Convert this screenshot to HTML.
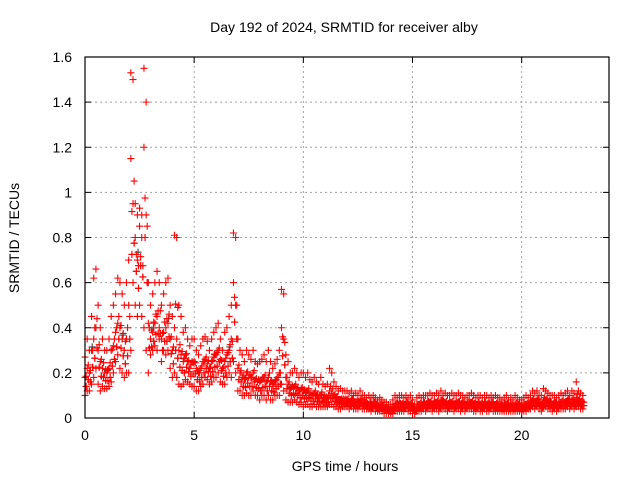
<!DOCTYPE html>
<html><head><meta charset="utf-8"><style>
body{margin:0;background:#fff}
svg{display:block;font-family:"Liberation Sans",sans-serif}
</style></head><body>
<svg id="chart" width="640" height="480">
<text x="344" y="32" text-anchor="middle" font-size="14">Day 192 of 2024, SRMTID for receiver alby</text>
<text x="345" y="471" text-anchor="middle" font-size="14">GPS time / hours</text>
<text transform="translate(19,238) rotate(-90)" text-anchor="middle" font-size="14">SRMTID / TECUs</text>
<g id="grid"></g><g id="ticks"></g><g id="marks"></g>
<rect x="85" y="57" width="524" height="361" fill="none" stroke="#000" stroke-width="1.2"/>
</svg>
<script>
const xTicks=[0,5,10,15,20];
const yTicks=[0,0.2,0.4,0.6,0.8,1,1.2,1.4,1.6];
const yTickLabels=["0","0.2","0.4","0.6","0.8","1","1.2","1.4","1.6"];
const timeStep=0.1;
const hiVals=[.27,.35,.3,.45,.62,.66,.5,.4,.35,.3,
.3,.35,.45,.5,.55,.62,.6,.55,.5,.6,
.7,1.53,1.5,.95,.9,.93,.9,1.55,1.4,.6,
.5,.55,.6,.65,.6,.5,.55,.6,.62,.5,
.45,.81,.8,.5,.45,.38,.4,.35,.32,.35,
.35,.3,.28,.32,.35,.36,.34,.3,.35,.38,
.4,.42,.35,.3,.38,.4,.45,.5,.82,.8,
.35,.3,.28,.25,.3,.28,.26,.3,.25,.24,
.25,.26,.28,.25,.3,.25,.22,.24,.26,.3,
.57,.55,.28,.25,.2,.2,.22,.2,.18,.2,
.2,.18,.2,.17,.16,.18,.16,.15,.18,.15,
.14,.15,.22,.2,.16,.14,.12,.13,.12,.12,
.12,.11,.12,.1,.11,.1,.12,.1,.1,.09,
.1,.09,.1,.09,.08,.09,.08,.07,.07,.06,
.06,.08,.1,.09,.1,.1,.09,.1,.09,.1,
.08,.06,.09,.1,.09,.1,.1,.1,.11,.1,
.1,.11,.1,.12,.1,.11,.1,.1,.11,.1,
.1,.11,.1,.1,.09,.1,.1,.11,.1,.09,
.1,.1,.09,.1,.1,.09,.1,.09,.1,.09,
.09,.08,.09,.1,.08,.09,.08,.1,.09,.08,
.08,.09,.1,.09,.1,.12,.11,.12,.1,.1,
.13,.12,.11,.1,.1,.1,.09,.1,.11,.1,
.11,.12,.1,.12,.11,.16,.12,.11,.1];
const midVals=[.18,.22,.2,.3,.35,.4,.3,.25,.22,.2,
.2,.22,.3,.32,.38,.42,.4,.35,.3,.35,
.5,1.15,.95,.8,.7,.85,.8,1.2,.9,.42,
.35,.38,.42,.45,.4,.35,.38,.4,.42,.35,
.3,.4,.35,.3,.28,.25,.28,.25,.22,.25,
.25,.22,.2,.22,.25,.26,.24,.22,.25,.27,
.28,.3,.26,.22,.25,.28,.3,.35,.6,.5,
.22,.2,.18,.17,.2,.18,.18,.2,.17,.16,
.16,.17,.18,.16,.18,.16,.15,.16,.18,.2,
.4,.35,.18,.15,.13,.14,.14,.13,.12,.13,
.12,.11,.12,.1,.1,.11,.1,.09,.1,.09,
.09,.09,.12,.11,.1,.09,.08,.08,.08,.08,
.08,.07,.08,.07,.07,.07,.08,.07,.07,.06,
.06,.06,.07,.06,.05,.06,.05,.05,.05,.04,
.04,.05,.06,.06,.07,.06,.06,.07,.06,.06,
.05,.04,.06,.06,.06,.07,.06,.07,.07,.06,
.07,.07,.06,.08,.07,.07,.06,.07,.07,.06,
.07,.07,.06,.07,.06,.07,.07,.07,.06,.06,
.07,.06,.06,.07,.06,.06,.07,.06,.06,.06,
.06,.05,.06,.06,.05,.06,.05,.06,.06,.05,
.05,.06,.06,.06,.07,.08,.07,.08,.07,.06,
.08,.08,.07,.07,.06,.07,.06,.07,.07,.07,
.07,.08,.07,.08,.07,.09,.08,.07,.07];
const loVals=[.1,.12,.12,.15,.18,.22,.15,.12,.14,.13,
.13,.14,.16,.2,.25,.28,.22,.2,.18,.2,
.2,.3,.6,.5,.45,.5,.45,.4,.3,.2,
.28,.3,.32,.3,.35,.25,.3,.28,.3,.22,
.18,.2,.18,.15,.14,.15,.17,.16,.15,.14,
.14,.12,.12,.14,.15,.18,.17,.15,.16,.18,
.18,.2,.16,.15,.15,.18,.2,.18,.25,.2,
.12,.12,.1,.1,.11,.1,.1,.12,.1,.1,
.08,.1,.1,.08,.1,.08,.08,.1,.1,.1,
.15,.12,.08,.07,.07,.07,.08,.07,.06,.07,
.05,.06,.06,.05,.05,.06,.05,.05,.05,.05,
.05,.05,.06,.06,.05,.05,.04,.04,.05,.05,
.05,.04,.05,.04,.04,.04,.05,.04,.04,.04,
.04,.03,.04,.03,.03,.03,.03,.02,.02,.02,
.02,.02,.03,.03,.03,.03,.03,.04,.03,.03,
.02,.02,.03,.03,.03,.04,.03,.04,.04,.03,
.04,.04,.03,.04,.04,.04,.03,.04,.04,.03,
.04,.04,.03,.04,.03,.04,.04,.04,.03,.03,
.04,.03,.03,.04,.03,.03,.04,.03,.03,.03,
.03,.03,.03,.03,.03,.03,.03,.03,.03,.03,
.03,.03,.03,.04,.04,.05,.04,.05,.04,.03,
.05,.05,.04,.04,.03,.04,.03,.04,.04,.04,
.04,.05,.04,.05,.04,.05,.05,.04,.04];
const NS="http://www.w3.org/2000/svg";
const X0=85,X1=609,Y0=418,Y1=57;
const xs=t=>X0+(t/24)*(X1-X0);
const ys=v=>Y0-(v/1.6)*(Y0-Y1);
function mk(tag,attrs,parent){const e=document.createElementNS(NS,tag);for(const k in attrs)e.setAttribute(k,attrs[k]);parent.appendChild(e);return e;}
const grid=document.getElementById('grid'),ticks=document.getElementById('ticks'),marks=document.getElementById('marks');
xTicks.forEach(t=>{const x=xs(t);
 if(t>0){const g=mk('line',{x1:x,x2:x,y1:Y0,y2:Y1,stroke:'#a0a0a0','stroke-dasharray':'2,3'},grid);
 
 }
 mk('line',{x1:x,x2:x,y1:Y0,y2:Y0-6,stroke:'#000'},ticks);
 mk('line',{x1:x,x2:x,y1:Y1,y2:Y1+6,stroke:'#000'},ticks);
 const l=mk('text',{x:x,y:Y0+22,'text-anchor':'middle','font-size':'14'},ticks);l.textContent=t;
 
 
});
yTicks.forEach((v,i)=>{const y=ys(v);
 if(v>0&&v<1.6){const g=mk('line',{x1:X0,x2:X1,y1:y,y2:y,stroke:'#a0a0a0','stroke-dasharray':'2,3'},grid);
 
 }
 mk('line',{x1:X0,x2:X0+6,y1:y,y2:y,stroke:'#000'},ticks);
 mk('line',{x1:X1,x2:X1-6,y1:y,y2:y,stroke:'#000'},ticks);
 const l=mk('text',{x:X0-13,y:y+5,'text-anchor':'end','font-size':'14'},ticks);l.textContent=yTickLabels[i];
 
 
});
function plus(t,v,c){const x=xs(t),y=ys(v);
 const p=mk('path',{d:`M${x-3.5} ${y}h7M${x} ${y-3.5}v7`,stroke:c,'stroke-width':'1.1',fill:'none'},marks);
 
 }
[loVals,midVals,hiVals].forEach((arr,si)=>{
 arr.forEach((v,i)=>{const t=i*timeStep;
  if(si===1&&i%7===3)plus(t+0.03,v*1.05,'#444');
  plus(t,v,'#f00');
  plus(t+0.05,(v+(arr===loVals?midVals[i]:loVals[i]))/2,'#f00');
 });
});
</script>
</body></html>
